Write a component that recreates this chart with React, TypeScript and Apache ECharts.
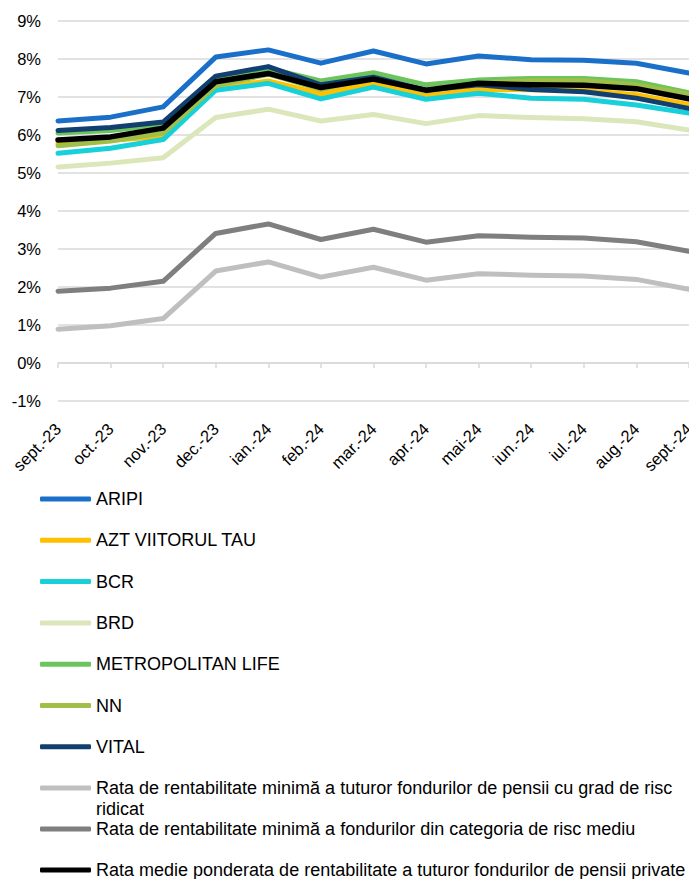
import React, { useEffect, useRef } from "react";
import * as echarts from "echarts";

const categories = ["sept.-23", "oct.-23", "nov.-23", "dec.-23", "ian.-24", "feb.-24", "mar.-24", "apr.-24", "mai-24", "iun.-24", "iul.-24", "aug.-24", "sept.-24"];
const yTicks = { min: -1, max: 9, interval: 1 };

const aripi = [6.37, 6.47, 6.74, 8.05, 8.24, 7.89, 8.21, 7.87, 8.08, 7.98, 7.97, 7.89, 7.63];
const azt = [5.77, 5.86, 5.96, 7.24, 7.42, 7.08, 7.36, 7.06, 7.2, 7.19, 7.17, 7.06, 6.8];
const bcr = [5.52, 5.65, 5.88, 7.18, 7.36, 6.95, 7.26, 6.94, 7.1, 6.97, 6.94, 6.79, 6.58];
const brd = [5.16, 5.26, 5.4, 6.46, 6.68, 6.37, 6.54, 6.3, 6.51, 6.46, 6.43, 6.35, 6.13];
const metropolitan = [6.05, 6.12, 6.27, 7.45, 7.75, 7.42, 7.64, 7.32, 7.45, 7.49, 7.49, 7.4, 7.11];
const nn = [5.72, 5.84, 6.05, 7.3, 7.6, 7.2, 7.5, 7.15, 7.36, 7.43, 7.43, 7.32, 7.07];
const vital = [6.12, 6.2, 6.34, 7.55, 7.8, 7.32, 7.52, 7.18, 7.32, 7.2, 7.14, 6.97, 6.7];
const riscRidicat = [0.89, 0.98, 1.17, 2.42, 2.66, 2.26, 2.52, 2.18, 2.35, 2.31, 2.29, 2.2, 1.94];
const riscMediu = [1.89, 1.97, 2.15, 3.41, 3.66, 3.25, 3.52, 3.18, 3.35, 3.31, 3.29, 3.19, 2.94];
const medie = [5.87, 5.95, 6.18, 7.4, 7.62, 7.25, 7.47, 7.18, 7.36, 7.32, 7.31, 7.22, 6.95];

const names = [
  "ARIPI",
  "AZT VIITORUL TAU",
  "BCR",
  "BRD",
  "METROPOLITAN LIFE",
  "NN",
  "VITAL",
  "Rata de rentabilitate minimă a tuturor fondurilor de pensii cu grad de risc ridicat",
  "Rata de rentabilitate minimă a fondurilor din categoria de risc mediu",
  "Rata medie ponderata de rentabilitate a tuturor fondurilor de pensii private",
];
const values = [aripi, azt, bcr, brd, metropolitan, nn, vital, riscRidicat, riscMediu, medie];
const colors = ["#1a70c8", "#ffc000", "#17d0da", "#dbe7bb", "#6ec45c", "#a0bf48", "#113f6f", "#bfbfbf", "#7f7f7f", "#000000"];

const FONT = "'Liberation Sans', Arial, sans-serif";

export default function App() {
  const ref = useRef<HTMLDivElement>(null);
  useEffect(() => {
    if (!ref.current) return;
    const chart = echarts.init(ref.current, null, { renderer: "svg" });
    const legendText = { fontFamily: FONT, fontSize: 18, color: "#000", lineHeight: 20 };
    const legendBase = {
      orient: "vertical" as const,
      left: 40,
      padding: 0,
      icon: "roundRect",
      itemWidth: 51,
      itemHeight: 5,
      itemGap: 21.3,
      textStyle: legendText,
      selectedMode: false,
    };
    chart.setOption({
      animation: false,
      grid: { left: 58, right: 5, top: 21, height: 380 },
      textStyle: { fontFamily: FONT },
      xAxis: [
        {
          type: "category",
          data: categories,
          boundaryGap: false,
          position: "bottom",
          axisLine: { show: false, onZero: false },
          axisTick: { show: false },
          splitLine: { show: false },
          axisLabel: { rotate: 45, margin: 25, fontSize: 16.5, color: "#000", fontFamily: FONT, interval: 0 },
        },
        {
          type: "category",
          data: categories,
          boundaryGap: false,
          position: "top",
          axisLine: { show: true, onZero: true, lineStyle: { color: "#d9d9d9", width: 1.5 } },
          axisTick: { show: true, inside: true, length: 5, interval: 0, lineStyle: { color: "#d9d9d9", width: 1.5 } },
          axisLabel: { show: false },
          splitLine: { show: false },
        },
      ],
      yAxis: {
        type: "value",
        min: yTicks.min,
        max: yTicks.max,
        interval: yTicks.interval,
        axisLine: { show: false },
        axisTick: { show: false },
        axisLabel: { formatter: (v: number) => `${v}%`, fontSize: 16.5, color: "#000", margin: 17, fontFamily: FONT },
        splitLine: { lineStyle: { color: "#d9d9d9", width: 1.5 } },
      },
      legend: [
        { ...legendBase, top: 489, data: names.slice(0, 7) },
        {
          ...legendBase,
          top: 756.5,
          data: [names[7]],
          formatter: () => "\nRata de rentabilitate minimă a tuturor fondurilor de pensii cu grad de risc\nridicat",
          textStyle: { ...legendText, lineHeight: 21 },
        },
        { ...legendBase, top: 820, data: [names[8]], textStyle: { ...legendText, lineHeight: 18 } },
        { ...legendBase, top: 860, data: [names[9]] },
      ],
      series: names.map((n, i) => ({
        name: n,
        type: "line",
        xAxisIndex: 0,
        data: values[i],
        symbol: "none",
        color: colors[i],
        lineStyle: { width: i === 9 ? 5.5 : 5, color: colors[i], cap: "round", join: "round" },
        itemStyle: { color: colors[i] },
      })),
    });
    return () => chart.dispose();
  }, []);
  return <div ref={ref} style={{ width: 697, height: 879, marginLeft: -8, marginTop: -8 }} />;
}
